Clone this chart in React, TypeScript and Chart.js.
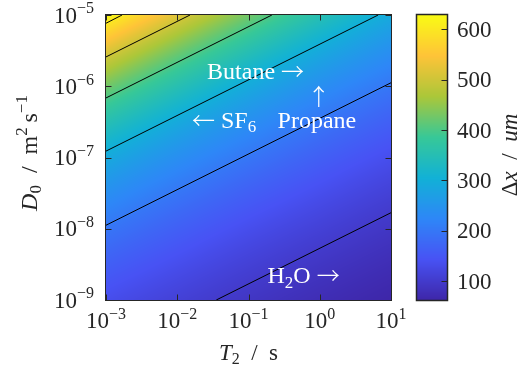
import React, { useEffect, useRef } from "react";
import { Chart, registerables } from "chart.js";

Chart.register(...registerables);

// ---------------- data ----------------
const t2Values = [1e-3, 1e-2, 1e-1, 1e0, 1e1]; // T2 / s  (grid columns)
const d0Values = [1e-9, 1e-8, 1e-7, 1e-6, 1e-5]; // D0 / m^2 s^-1 (grid rows)
// Δx / um at each grid node, one array per D0 row
const dxAtD1e9 = [135, 112, 92, 76, 63];
const dxAtD1e8 = [199, 164, 135, 112, 92];
const dxAtD1e7 = [291, 240, 199, 164, 135];
const dxAtD1e6 = [428, 353, 291, 240, 199];
const dxAtD1e5 = [628, 518, 428, 353, 291];
const dxGrid = [dxAtD1e9, dxAtD1e8, dxAtD1e7, dxAtD1e6, dxAtD1e5];

// contour lines (Δx = 100 ... 600 um), end points in data units
const contour100 = [{ x: 0.0353, y: 1e-9 }, { x: 10, y: 1.68e-8 }];
const contour200 = [{ x: 1e-3, y: 1.12e-8 }, { x: 10, y: 1.12e-6 }];
const contour300 = [{ x: 1e-3, y: 1.23e-7 }, { x: 6.6, y: 1e-5 }];
const contour400 = [{ x: 1e-3, y: 6.85e-7 }, { x: 0.213, y: 1e-5 }];
const contour500 = [{ x: 1e-3, y: 2.58e-6 }, { x: 0.0151, y: 1e-5 }];
const contour600 = [{ x: 1e-3, y: 7.66e-6 }, { x: 0.00168, y: 1e-5 }];
const contours = [contour100, contour200, contour300, contour400, contour500, contour600];

const t2TickExponents = [-3, -2, -1, 0, 1];
const d0TickExponents = [-9, -8, -7, -6, -5];
const dxColorbarTicks = [100, 200, 300, 400, 500, 600];

type Run = { t: string; italic?: boolean; sub?: boolean; sup?: boolean; arrow?: boolean; dy?: number };

const annotationTexts: Run[][] = [
  [{ t: "Butane " }, { t: "\u2192", arrow: true }],
  [{ t: "\u2191", arrow: true }],
  [{ t: "Propane" }],
  [{ t: "\u2190", arrow: true }, { t: " SF" }, { t: "6", sub: true }],
  [{ t: "H" }, { t: "2", sub: true }, { t: "O " }, { t: "\u2192", arrow: true }],
];
const annotationT2 = [0.0262, 0.965, 0.256, 0.0161, 0.185];
const annotationD0 = [1.28e-6, 5.64e-7, 2.62e-7, 2.62e-7, 1.71e-9];
const annotationAlign = ["left", "center", "left", "left", "left"];

// ---------------- styling helpers ----------------
const FAMILY = '"Liberation Serif", "Times New Roman", serif';
const ARROW_FAMILY = '"Noto Sans CJK SC", "DejaVu Sans", sans-serif';
const AXIS_COLOR = "#262626";

const parulaStops = [
  [0.2422, 0.1504, 0.6603],
  [0.281, 0.3228, 0.9579],
  [0.1786, 0.5289, 0.9682],
  [0.0689, 0.6948, 0.8394],
  [0.2161, 0.7843, 0.5923],
  [0.672, 0.7793, 0.2227],
  [0.997, 0.7659, 0.2199],
  [0.9769, 0.9839, 0.0805],
];

function parula(f: number): [number, number, number] {
  const t = Math.max(0, Math.min(1, f)) * (parulaStops.length - 1);
  const i = Math.min(parulaStops.length - 2, Math.floor(t));
  const u = t - i;
  const a = parulaStops[i];
  const b = parulaStops[i + 1];
  return [
    Math.round(255 * (a[0] + (b[0] - a[0]) * u)),
    Math.round(255 * (a[1] + (b[1] - a[1]) * u)),
    Math.round(255 * (a[2] + (b[2] - a[2]) * u)),
  ];
}

const allDx = dxGrid.flat();
const dxMin = Math.min(...allDx);
const dxMax = Math.max(...allDx);

function runSize(r: Run, base: number) {
  return r.sub || r.sup ? Math.round(base * 0.7) : base;
}
function runFont(r: Run, base: number) {
  if (r.arrow) return `300 ${Math.round(base * 0.95)}px ${ARROW_FAMILY}`;
  return `${r.italic ? "italic " : ""}${runSize(r, base)}px ${FAMILY}`;
}
function runDy(r: Run, base: number) {
  if (r.dy !== undefined) return r.dy;
  if (r.arrow) return base * 0.04;
  return r.sub ? base * 0.18 : r.sup ? -base * 0.4 : 0;
}
function measureRuns(ctx: CanvasRenderingContext2D, runs: Run[], base: number) {
  let w = 0;
  for (const r of runs) {
    ctx.font = runFont(r, base);
    w += ctx.measureText(r.t).width;
  }
  return w;
}
function drawRuns(
  ctx: CanvasRenderingContext2D,
  runs: Run[],
  x: number,
  y: number,
  base: number,
  align: string,
  color: string
) {
  const w = measureRuns(ctx, runs, base);
  let cx = align === "left" ? x : align === "center" ? x - w / 2 : x - w;
  ctx.fillStyle = color;
  ctx.textAlign = "left";
  ctx.textBaseline = "alphabetic";
  for (const r of runs) {
    ctx.font = runFont(r, base);
    ctx.fillText(r.t, cx, y + runDy(r, base));
    cx += ctx.measureText(r.t).width;
  }
}
function expRuns(e: number): Run[] {
  return [{ t: "10" }, { t: (e < 0 ? "\u2212" : "") + Math.abs(e), sup: true }];
}
function locate(arr: number[], v: number): [number, number] {
  let k = 0;
  while (k < arr.length - 2 && v > arr[k + 1]) k++;
  let f = (v - arr[k]) / (arr[k + 1] - arr[k]);
  f = Math.max(0, Math.min(1, f));
  return [k, f];
}

// ---------------- plugins ----------------
const heatmapPlugin = {
  id: "heatmap",
  beforeDatasetsDraw(chart: any) {
    const { ctx, chartArea: a, scales } = chart;
    const xs = scales.x;
    const ys = scales.y;
    const w = Math.round(a.right - a.left);
    const h = Math.round(a.bottom - a.top);
    const off = document.createElement("canvas");
    off.width = w;
    off.height = h;
    const octx = off.getContext("2d")!;
    const img = octx.createImageData(w, h);
    const lx = t2Values.map(Math.log10);
    const ly = d0Values.map(Math.log10);
    const lg = dxGrid.map((r) => r.map(Math.log10));
    for (let j = 0; j < h; j++) {
      const ld = Math.log10(ys.getValueForPixel(a.top + j + 0.5));
      const [r, fr] = locate(ly, ld);
      for (let i = 0; i < w; i++) {
        const lt = Math.log10(xs.getValueForPixel(a.left + i + 0.5));
        const [c, fc] = locate(lx, lt);
        const v00 = lg[r][c];
        const v01 = lg[r][c + 1];
        const v10 = lg[r + 1][c];
        const v11 = lg[r + 1][c + 1];
        const lv =
          v00 * (1 - fr) * (1 - fc) + v01 * (1 - fr) * fc + v10 * fr * (1 - fc) + v11 * fr * fc;
        const v = Math.pow(10, lv);
        const col = parula((v - dxMin) / (dxMax - dxMin));
        const k = (j * w + i) * 4;
        img.data[k] = col[0];
        img.data[k + 1] = col[1];
        img.data[k + 2] = col[2];
        img.data[k + 3] = 255;
      }
    }
    octx.putImageData(img, 0, 0);
    ctx.drawImage(off, a.left, a.top);
  },
};

const mainAxesPlugin = {
  id: "mainAxes",
  afterDraw(chart: any) {
    const { ctx, chartArea: a, scales } = chart;
    const xs = scales.x;
    const ys = scales.y;
    ctx.save();
    const L = Math.round(a.left) - 0.5;
    const R = Math.round(a.right) + 0.5;
    const T = Math.round(a.top) - 0.5;
    const B = Math.round(a.bottom) + 0.5;
    ctx.strokeStyle = AXIS_COLOR;
    ctx.lineWidth = 1;
    ctx.strokeRect(L, T, R - L, B - T);
    const tl = 6;
    ctx.beginPath();
    for (const e of t2TickExponents) {
      const px = Math.round(xs.getPixelForValue(Math.pow(10, e))) + 0.5;
      ctx.moveTo(px, B);
      ctx.lineTo(px, B - tl);
      ctx.moveTo(px, T);
      ctx.lineTo(px, T + tl);
    }
    for (const e of d0TickExponents) {
      const py = Math.round(ys.getPixelForValue(Math.pow(10, e))) + 0.5;
      ctx.moveTo(L, py);
      ctx.lineTo(L + tl, py);
      ctx.moveTo(R, py);
      ctx.lineTo(R - tl, py);
    }
    ctx.stroke();

    // tick labels
    for (const e of t2TickExponents) {
      const px = xs.getPixelForValue(Math.pow(10, e));
      drawRuns(ctx, expRuns(e), px, 328, 23, "center", AXIS_COLOR);
    }
    for (const e of d0TickExponents) {
      const py = ys.getPixelForValue(Math.pow(10, e));
      drawRuns(ctx, expRuns(e), 94, py + 7.5, 23, "right", AXIS_COLOR);
    }

    // axis titles
    drawRuns(
      ctx,
      [{ t: "T", italic: true }, { t: "2", sub: true }, { t: "\u2002/\u2002s" }],
      (a.left + a.right) / 2,
      360,
      23,
      "center",
      AXIS_COLOR
    );
    ctx.save();
    ctx.translate(36.5, 153);
    ctx.rotate(-Math.PI / 2);
    drawRuns(
      ctx,
      [
        { t: "D", italic: true },
        { t: "0", sub: true },
        { t: "\u2002/\u2002m" },
        { t: "2", sup: true },
        { t: "\u2009s" },
        { t: "\u22121", sup: true },
      ],
      0,
      0,
      24,
      "center",
      AXIS_COLOR
    );
    ctx.restore();

    // annotations
    annotationTexts.forEach((runs, i) => {
      const px = xs.getPixelForValue(annotationT2[i]);
      const py = ys.getPixelForValue(annotationD0[i]);
      drawRuns(ctx, runs, px, py, 24, annotationAlign[i], "#ffffff");
    });
    ctx.restore();
  },
};

const colorbarPlugin = {
  id: "colorbar",
  afterDraw(chart: any) {
    const { ctx, chartArea: a, scales } = chart;
    const ys = scales.y;
    ctx.save();
    const top = Math.round(a.top);
    const bot = Math.round(a.bottom);
    for (let j = top; j < bot; j++) {
      const v = ys.getValueForPixel(j + 0.5);
      const c = parula((v - dxMin) / (dxMax - dxMin));
      ctx.fillStyle = `rgb(${c[0]},${c[1]},${c[2]})`;
      ctx.fillRect(a.left, j, a.right - a.left, 1);
    }
    const L = Math.round(a.left) - 0.5;
    const R = Math.round(a.right) + 0.5;
    const T = top - 0.5;
    const B = bot + 0.5;
    ctx.strokeStyle = AXIS_COLOR;
    ctx.lineWidth = 1.5;
    ctx.strokeRect(L, T, R - L, B - T);
    ctx.lineWidth = 1;
    ctx.beginPath();
    for (const v of dxColorbarTicks) {
      const py = Math.round(ys.getPixelForValue(v)) + 0.5;
      ctx.moveTo(R, py);
      ctx.lineTo(R - 6, py);
    }
    ctx.stroke();
    for (const v of dxColorbarTicks) {
      const py = ys.getPixelForValue(v);
      drawRuns(ctx, [{ t: String(v) }], R + 9.5, py + 7.5, 23, "left", AXIS_COLOR);
    }
    ctx.save();
    ctx.translate(516.5, 155);
    ctx.rotate(-Math.PI / 2);
    drawRuns(
      ctx,
      [{ t: "\u0394" }, { t: "x", italic: true }, { t: "\u2002/\u2002" }, { t: "um", italic: true }],
      0,
      0,
      23,
      "center",
      AXIS_COLOR
    );
    ctx.restore();
    ctx.restore();
  },
};

// ---------------- component ----------------
export default function App() {
  const mainRef = useRef<HTMLCanvasElement>(null);
  const cbRef = useRef<HTMLCanvasElement>(null);

  useEffect(() => {
    const main = new Chart(mainRef.current!, {
      type: "scatter",
      data: {
        datasets: contours.map((c, i) => ({
          label: `level ${i}`,
          data: c,
          showLine: true,
          borderColor: "#000000",
          borderWidth: 1,
          pointRadius: 0,
          pointHoverRadius: 0,
          fill: false,
        })),
      },
      options: {
        animation: false,
        responsive: false,
        devicePixelRatio: 1,
        events: [],
        layout: { padding: { left: 106, right: 127, top: 15, bottom: 72 } },
        plugins: { legend: { display: false }, tooltip: { enabled: false } },
        scales: {
          x: { type: "logarithmic", min: 1e-3, max: 1e1, display: false },
          y: { type: "logarithmic", min: 1e-9, max: 1e-5, display: false },
        },
      },
      plugins: [heatmapPlugin, mainAxesPlugin],
    } as any);

    const cb = new Chart(cbRef.current!, {
      type: "scatter",
      data: { datasets: [] },
      options: {
        animation: false,
        responsive: false,
        devicePixelRatio: 1,
        events: [],
        layout: { padding: { left: 417, right: 71, top: 15, bottom: 72 } },
        plugins: { legend: { display: false }, tooltip: { enabled: false } },
        scales: {
          x: { type: "linear", min: 0, max: 1, display: false },
          y: { type: "linear", min: dxMin, max: dxMax, display: false },
        },
      },
      plugins: [colorbarPlugin],
    } as any);

    return () => {
      main.destroy();
      cb.destroy();
    };
  }, []);

  const cs: React.CSSProperties = {
    position: "absolute",
    left: 0,
    top: 0,
    width: 518,
    height: 372,
  };
  return (
    <div
      style={{
        position: "fixed",
        left: 0,
        top: 0,
        width: 518,
        height: 372,
        background: "#ffffff",
        overflow: "hidden",
      }}
    >
      <canvas ref={mainRef} width={518} height={372} style={cs} />
      <canvas ref={cbRef} width={518} height={372} style={cs} />
    </div>
  );
}
